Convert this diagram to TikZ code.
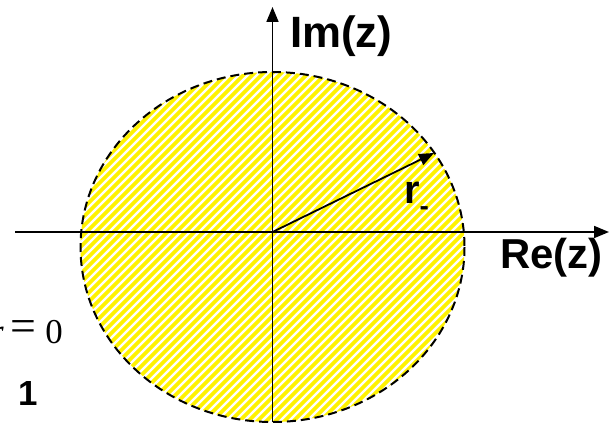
\documentclass[tikz,border=0pt]{standalone}
\usepackage{fontspec}
\setmainfont{Liberation Sans}
\newfontfamily\serifnum{Liberation Serif}
\usetikzlibrary{arrows.meta}
\tikzset{
  axis/.style={line width=1.8pt, -{Triangle[length=15pt,width=12pt]}},
  rim/.style={line width=2pt, dash pattern=on 9pt off 5pt},
  hatch/.style={yellow, line width=3.8pt},
  lbl/.style={inner sep=0pt, font=\bfseries},
}
\begin{document}
\begin{tikzpicture}[x=1bp,y=-1bp]
\useasboundingbox (0,0) rectangle (615,422);
\coordinate (O) at (272.5,232);
\coordinate (C) at (272.5,247);
% hatched disc
\begin{scope}
  \clip (C) ellipse [x radius=192, y radius=175];
  \fill[white] (C) ellipse [x radius=192, y radius=175];
  \foreach \i in {-400,-391,...,400}
    \draw[hatch] (272.5+\i-220,450) -- ++(440,-440);
\end{scope}
\draw[rim] (C) ellipse [x radius=192, y radius=175];
% axes
\coordinate (xs) at (15,232);
\coordinate (xe) at (609,232);
\coordinate (ys) at (272.5,422);
\coordinate (ye) at (272.5,7);
\draw[axis] (xs) -- (xe);
\draw[axis] (ys) -- (ye);
% radius
\coordinate (R) at (434,153);
\draw[axis] (O) -- (R);
% labels
\node[lbl, anchor=base west, font=\fontsize{44}{44}\selectfont\bfseries] (im) at (290,47) {Im(z)};
\node[lbl, anchor=base west, font=\fontsize{42}{42}\selectfont\bfseries] (re) at (500,268) {Re(z)};
\node[lbl, anchor=base west, font=\fontsize{40}{40}\selectfont\bfseries] (r) at (404,203) {r\raisebox{-12.5bp}{\fontsize{28}{28}\selectfont -}};
\node[inner sep=0pt, anchor=base east] (zero) at (63,343) {\serifnum\fontsize{35}{35}\selectfont 0};
\node[inner sep=0pt, anchor=center] (eq) at (23.5,331) {\serifnum\fontsize{46}{46}\selectfont =};
\node[inner sep=0pt, anchor=base east] (rr) at (4,343) {\serifnum\itshape\fontsize{35}{35}\selectfont r};
\node[lbl, anchor=base, font=\fontsize{35}{35}\selectfont\bfseries] (one) at (28.5,405) {1};
\end{tikzpicture}
\end{document}
